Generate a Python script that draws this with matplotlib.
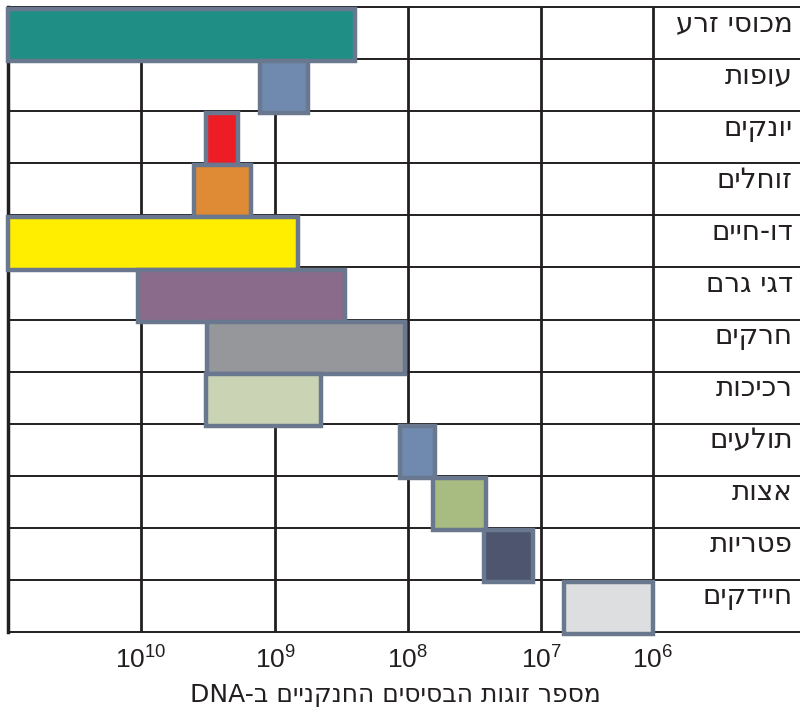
import re
import numpy as np
import matplotlib.pyplot as plt

# genome size ranges (base pairs)
groups = ['מכוסי זרע', 'עופות', 'יונקים', 'זוחלים', 'דו-חיים', 'דגי גרם',
          'חרקים', 'רכיכות', 'תולעים', 'אצות', 'פטריות', 'חיידקים']
bp_max = [1e11, 1.3e9, 3.3e9, 4.0e9, 1e11, 1.05e10,
          3.2e9, 3.3e9, 1.15e8, 6.5e7, 2.7e7, 6.2e6]
bp_min = [2.5e8, 5.6e8, 1.9e9, 1.5e9, 6.7e8, 3.0e8,
          1.05e8, 4.5e8, 6.3e7, 2.6e7, 1.15e7, 1e6]
colors = ['#1f8f85', '#6f8aae', '#ee1c25', '#df8a34', '#ffee00', '#8b6b8b',
          '#96979b', '#cbd3b5', '#6f8aae', '#a8bb80', '#4d566e', '#dcdee0']
tick_vals = [1e10, 1e9, 1e8, 1e7, 1e6]
tick_labels = ['$10^{10}$', '$10^{9}$', '$10^{8}$', '$10^{7}$', '$10^{6}$']
xlabel = 'מספר זוגות הבסיסים החנקניים ב-DNA'


def visual(s):
    # matplotlib has no bidi support: flip Hebrew, keep latin runs readable
    return re.sub(r'[A-Za-z0-9]+', lambda m: m.group()[::-1], s[::-1])


# the source chart is schematic: last decade is narrower than the others
dec_knots = [4, 6, 7, 8, 9, 10, 11]
pos_knots = [-77, 147, 259, 392, 525, 659, 792]

def forward(x):
    x = np.asarray(x, dtype=float)
    return np.interp(np.log10(np.clip(x, 1e-300, None)), dec_knots, pos_knots)

def inverse(u):
    return 10 ** np.interp(u, pos_knots, dec_knots)


plt.rcParams['font.family'] = ['DejaVu Sans']
plt.rcParams['mathtext.fontset'] = 'custom'
plt.rcParams['mathtext.rm'] = 'Liberation Sans'
plt.rcParams['mathtext.it'] = 'Liberation Sans'

line_c = '#231f20'
fig = plt.figure(figsize=(8, 7.07), dpi=100)
ax = fig.add_axes([0.01, 1 - 632 / 707, 0.99, 625 / 707])
ax.set_xscale('function', functions=(forward, inverse))
ax.set_xlim(1e11, inverse(0))
ax.set_ylim(len(groups) - 0.5, -0.5)

for v in tick_vals:
    ax.axvline(v, color=line_c, lw=2, zorder=1)
ax.axvline(1e11, color=line_c, lw=2.5, zorder=1, clip_on=False)
for k in range(len(groups) + 1):
    ax.axhline(k - 0.5, color=line_c, lw=1.4, zorder=1, clip_on=False)

rows = np.arange(len(groups))
ax.barh(rows + 0.04, np.array(bp_max) - np.array(bp_min), left=bp_min, height=1.0,
        color=colors, edgecolor='#69788f', linewidth=3.2, zorder=3, clip_on=False)

for i, g in enumerate(groups):
    ax.text(0.991, i - 0.03, visual(g), transform=ax.get_yaxis_transform(),
            ha='right', va='baseline', fontsize=20, color='#231f20')

for s in ax.spines.values():
    s.set_visible(False)
ax.set_yticks([])
ax.set_xticks(tick_vals)
ax.set_xticklabels(tick_labels, fontsize=19, color='#231f20')
ax.xaxis.set_minor_locator(plt.NullLocator())
ax.tick_params(axis='x', length=0, pad=11)

fig.text(395 / 800, 1 - 695 / 707, visual(xlabel), ha='center', va='center',
         fontsize=18, color='#231f20')

fig.savefig('out.png', dpi=100)
